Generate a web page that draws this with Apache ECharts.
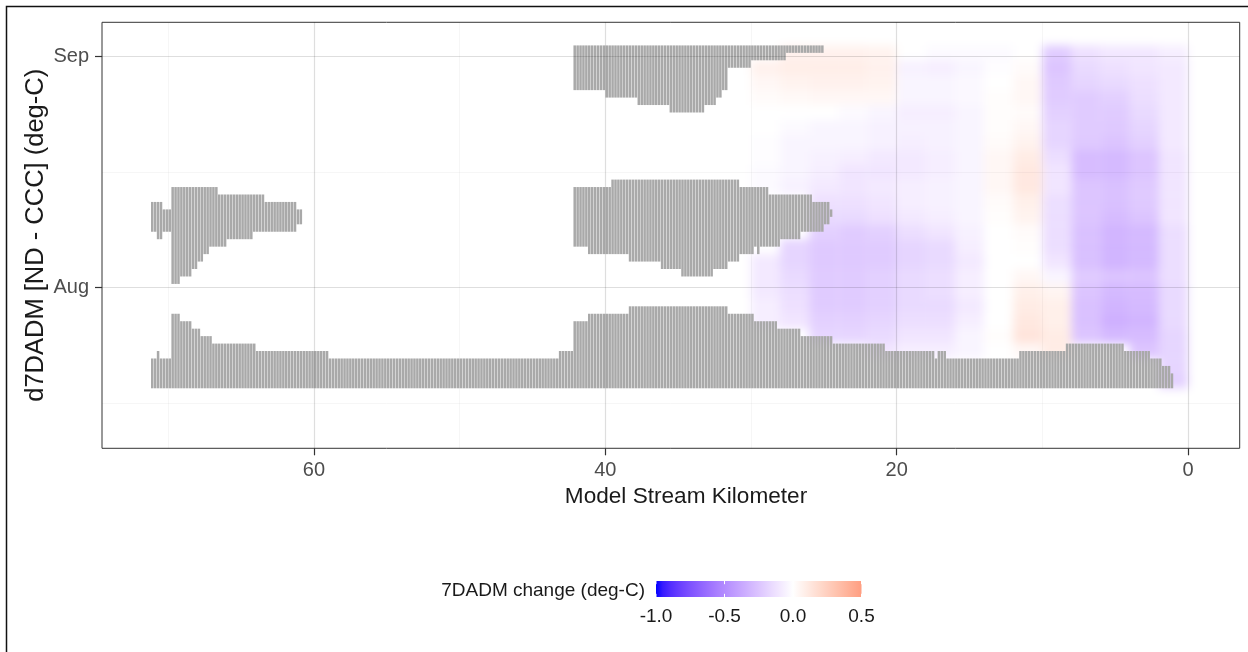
<!DOCTYPE html>
<html>
<head>
<meta charset="utf-8">
<script src="https://cdn.jsdelivr.net/npm/echarts@6/dist/echarts.min.js"></script>
<style>
  html, body { margin: 0; padding: 0; background: #fff; }
  #wrap { position: relative; width: 1248px; height: 652px; overflow: hidden; background: #fff; }
  #fieldLayer, #mainLayer { position: absolute; left: 0; top: 0; width: 1248px; height: 652px; }
  #fieldLayer { filter: blur(5px); }
</style>
</head>
<body>
<div id="wrap">
  <div id="fieldLayer"></div>
  <div id="mainLayer"></div>
</div>
<script>
// ---------------- data ----------------
const kmTicks = [60, 40, 20, 0];
const kmMinor = [70, 50, 30, 10];
const monthTicks = [0, 31];            // days after 1 Aug
const monthLabels = ['Aug', 'Sep'];
const dayMinor = [-15.5, 15.5];
const legendBreaks = [-1.0, -0.5, 0.0, 0.5];

// change field in 2-km x 2-day bands
const fieldKmFrom = [0, 2, 4, 6, 8, 10, 12, 14, 16, 18, 20, 22, 24, 26, 28];
const fieldDayFrom = [31, 29, 27, 25, 23, 21, 19, 17, 15, 13, 11, 9, 7, 5, 3, 1, -1, -3, -5, -7, -9, -11, -13];
const fieldChange = [
  [-0.07, -0.10, -0.10, -0.13, -0.22, 0.00, -0.02, -0.02, -0.02, 0.00, 0.06, 0.07, 0.07, 0.07, null],
  [-0.09, -0.11, -0.13, -0.16, -0.25, 0.02, -0.01, -0.04, -0.07, -0.06, 0.07, 0.09, 0.09, 0.09, 0.07],
  [-0.09, -0.13, -0.16, -0.18, -0.23, 0.04, 0.00, -0.03, -0.04, -0.04, 0.06, 0.07, 0.07, 0.06, 0.04],
  [-0.09, -0.14, -0.20, -0.22, -0.22, 0.04, 0.01, -0.03, -0.04, -0.04, 0.04, 0.04, 0.04, 0.03, 0.02],
  [-0.09, -0.16, -0.22, -0.22, -0.20, 0.02, 0.01, -0.04, -0.07, -0.07, -0.04, -0.02, 0.00, 0.00, 0.00],
  [-0.09, -0.18, -0.23, -0.22, -0.18, 0.04, 0.01, -0.04, -0.06, -0.06, -0.06, -0.04, -0.04, -0.02, 0.00],
  [-0.09, -0.20, -0.25, -0.23, -0.18, 0.06, 0.02, -0.04, -0.06, -0.07, -0.06, -0.04, -0.04, -0.04, -0.01],
  [-0.11, -0.25, -0.30, -0.29, -0.14, 0.10, 0.04, -0.04, -0.07, -0.09, -0.09, -0.07, -0.06, -0.04, -0.01],
  [-0.11, -0.25, -0.30, -0.29, -0.11, 0.12, 0.04, -0.04, -0.07, -0.09, -0.11, -0.11, -0.07, -0.04, -0.02],
  [-0.11, -0.23, -0.27, -0.25, -0.11, 0.12, 0.04, -0.04, -0.06, -0.07, -0.09, -0.11, -0.09, -0.06, -0.02],
  [-0.11, -0.23, -0.27, -0.25, -0.14, 0.08, 0.02, -0.04, -0.06, -0.07, -0.11, -0.13, -0.13, null, null],
  [-0.11, -0.25, -0.29, -0.25, -0.14, 0.06, 0.01, -0.04, -0.07, -0.09, -0.13, -0.16, -0.16, null, null],
  [-0.14, -0.30, -0.32, -0.27, -0.14, 0.02, 0.00, -0.06, -0.11, -0.14, -0.20, -0.22, -0.20, null, null],
  [-0.14, -0.30, -0.32, -0.27, -0.14, 0.01, 0.00, -0.07, -0.16, -0.18, -0.22, -0.23, -0.23, -0.18, null],
  [-0.14, -0.30, -0.32, -0.27, -0.11, 0.00, 0.00, -0.09, -0.16, -0.18, -0.22, -0.23, -0.23, -0.18, -0.09],
  [-0.14, -0.25, -0.25, -0.22, -0.04, 0.04, 0.00, -0.07, -0.14, -0.16, -0.20, -0.22, -0.22, -0.16, -0.09],
  [-0.16, -0.29, -0.30, -0.25, 0.05, 0.08, 0.00, -0.07, -0.14, -0.16, -0.20, -0.22, -0.22, -0.14, -0.09],
  [-0.16, -0.30, -0.32, -0.27, 0.08, 0.10, 0.00, -0.09, -0.16, -0.16, -0.20, -0.22, -0.22, -0.13, -0.07],
  [-0.16, -0.32, -0.34, -0.27, 0.08, 0.12, 0.00, -0.07, -0.14, -0.14, -0.18, -0.20, -0.20, -0.11, -0.07],
  [-0.18, -0.29, -0.30, -0.25, 0.10, 0.14, 0.01, -0.04, -0.11, -0.11, -0.16, -0.18, -0.18, null, null],
  [-0.18, -0.25, null, null, 0.10, 0.04, 0.00, -0.04, -0.07, -0.07, -0.11, null, null, null, null],
  [-0.18, null, null, null, null, null, null, null, null, null, null, null, null, null, null],
  [-0.20, null, null, null, null, null, null, null, null, null, null, null, null, null, null]
];

// stretches with no comparison: [km upper, km lower, first day, last day] (days after 1 Aug)
const noDataRuns = [
  // long July band
  [71.2, 70.8, -13, -10], [70.8, 70.6, -13, -9], [70.6, 69.8, -13, -10], [69.8, 69.2, -13, -4],
  [69.2, 68.4, -13, -5], [68.4, 67.8, -13, -6], [67.8, 67.0, -13, -7], [67.0, 64.0, -13, -8],
  [64.0, 59.0, -13, -9], [59.0, 43.2, -13, -10], [43.2, 42.2, -13, -9], [42.2, 41.2, -13, -5],
  [41.2, 38.4, -13, -4], [38.4, 31.6, -13, -3], [31.6, 29.8, -13, -4], [29.8, 28.2, -13, -5],
  [28.2, 26.6, -13, -6], [26.6, 24.4, -13, -7], [24.4, 20.8, -13, -8], [20.8, 17.4, -13, -9],
  [17.4, 17.2, -13, -10], [17.2, 16.6, -13, -9], [16.6, 11.6, -13, -10], [11.6, 8.4, -13, -9],
  [8.4, 4.4, -13, -8], [4.4, 2.6, -13, -9], [2.6, 1.8, -13, -10], [1.8, 1.2, -13, -11],
  [1.2, 1.0, -13, -12],
  // upstream August patch
  [71.2, 70.8, 8, 11], [70.8, 70.4, 7, 11], [70.4, 69.8, 8, 10], [69.8, 69.2, 1, 13],
  [69.2, 68.4, 2, 13], [68.4, 68.0, 3, 13], [68.0, 67.6, 4, 13], [67.6, 67.2, 5, 13],
  [67.2, 66.6, 6, 13], [66.6, 66.0, 6, 12], [66.0, 64.2, 7, 12], [64.2, 63.4, 8, 12],
  [63.4, 61.2, 8, 11], [61.2, 60.8, 9, 10],
  // mid-reach August patch
  [42.2, 41.2, 6, 13], [41.2, 39.6, 5, 13], [39.6, 38.4, 5, 14], [38.4, 36.2, 4, 14],
  [36.2, 34.8, 3, 14], [34.8, 32.6, 2, 14], [32.6, 31.6, 3, 14], [31.6, 30.8, 4, 14],
  [30.8, 29.8, 5, 13], [29.8, 29.6, 6, 13], [29.6, 29.4, 5, 13], [29.4, 28.8, 6, 13],
  [28.8, 28.0, 6, 12], [28.0, 26.6, 7, 12], [26.6, 25.8, 8, 12], [25.8, 25.0, 8, 11],
  [25.0, 24.6, 9, 11], [24.6, 24.4, 10, 10],
  // late-August / September patch
  [42.2, 40.0, 27, 32], [40.0, 37.8, 26, 32], [37.8, 35.6, 25, 32], [35.6, 33.2, 24, 32],
  [33.2, 32.4, 25, 32], [32.4, 32.0, 26, 32], [32.0, 31.6, 27, 32], [31.6, 30.0, 30, 32],
  [30.0, 27.6, 31, 32], [27.6, 25.0, 32, 32]
];

// ---------------- styling helpers ----------------
const FONT = '"Liberation Sans", Arial, Helvetica, sans-serif';
const segmentKm = 0.2;   // model segment length
const fieldBandKm = 2;
const fieldBandDays = 2;

// colours interpolated in CIE Lab between white and blue / red
function toLin(c) { c /= 255; return c <= 0.04045 ? c / 12.92 : Math.pow((c + 0.055) / 1.055, 2.4); }
function toSrgb(c) {
  c = c <= 0.0031308 ? 12.92 * c : 1.055 * Math.pow(c, 1 / 2.4) - 0.055;
  return Math.round(Math.max(0, Math.min(1, c)) * 255);
}
function rgbToLab(rgb) {
  const R = toLin(rgb[0]), G = toLin(rgb[1]), B = toLin(rgb[2]);
  const X = (0.4124 * R + 0.3576 * G + 0.1805 * B) / 0.95047;
  const Y = 0.2126 * R + 0.7152 * G + 0.0722 * B;
  const Z = (0.0193 * R + 0.1192 * G + 0.9505 * B) / 1.08883;
  const f = t => t > 0.008856 ? Math.cbrt(t) : 7.787 * t + 16 / 116;
  const fx = f(X), fy = f(Y), fz = f(Z);
  return [116 * fy - 16, 500 * (fx - fy), 200 * (fy - fz)];
}
function labToRgb(lab) {
  const fy = (lab[0] + 16) / 116, fx = fy + lab[1] / 500, fz = fy - lab[2] / 200;
  const inv = t => t * t * t > 0.008856 ? t * t * t : (t - 16 / 116) / 7.787;
  const X = inv(fx) * 0.95047, Y = inv(fy), Z = inv(fz) * 1.08883;
  return [
    toSrgb(3.2406 * X - 1.5372 * Y - 0.4986 * Z),
    toSrgb(-0.9689 * X + 1.8758 * Y + 0.0415 * Z),
    toSrgb(0.0557 * X - 0.2040 * Y + 1.0570 * Z)
  ];
}
const LAB_WHITE = rgbToLab([255, 255, 255]);
const LAB_BLUE = rgbToLab([0, 0, 255]);
const LAB_RED = rgbToLab([255, 0, 0]);
function changeColor(v) {
  const end = v < 0 ? LAB_BLUE : LAB_RED;
  const t = Math.min(1, Math.abs(v));
  const lab = LAB_WHITE.map((w, i) => w + (end[i] - w) * t);
  const c = labToRgb(lab);
  return 'rgb(' + c[0] + ',' + c[1] + ',' + c[2] + ')';
}
const scaleMin = -1.0, scaleMax = 0.5;
const colorStops = [];
for (let i = 0; i <= 30; i++) colorStops.push(changeColor(scaleMin + (scaleMax - scaleMin) * i / 30));

// ---------------- shared coordinate frame ----------------
const gridBox = { left: 102, top: 22.3, width: 1137.7, height: 426, containLabel: false };
const xRange = { min: -3.55, max: 74.55 };
const yRange = { min: -21.55, max: 35.6 };

function rectFrom(api, kmA, kmB, dayA, dayB) {
  const p = api.coord([kmA, dayA]);
  const q = api.coord([kmB, dayB]);
  return {
    x: Math.min(p[0], q[0]), y: Math.min(p[1], q[1]),
    width: Math.abs(q[0] - p[0]), height: Math.abs(q[1] - p[1])
  };
}

// ---------------- change field (soft layer) ----------------
const fieldData = [];
fieldDayFrom.forEach((d, r) => {
  fieldKmFrom.forEach((k, c) => {
    const v = fieldChange[r][c];
    if (v !== null) fieldData.push([k, d, v]);
  });
});

const fieldChart = echarts.init(document.getElementById('fieldLayer'), null, { renderer: 'canvas' });
fieldChart.setOption({
  backgroundColor: '#ffffff',
  animation: false,
  grid: gridBox,
  xAxis: Object.assign({ type: 'value', inverse: true, show: false }, xRange),
  yAxis: Object.assign({ type: 'value', show: false }, yRange),
  visualMap: {
    type: 'continuous', show: false, min: scaleMin, max: scaleMax,
    dimension: 2, seriesIndex: 0, inRange: { color: colorStops }
  },
  series: [{
    type: 'custom',
    silent: true,
    data: fieldData,
    renderItem(params, api) {
      const k = api.value(0), d = api.value(1);
      const shape = rectFrom(api, k, k + fieldBandKm, d - 0.5, d - 0.5 + fieldBandDays);
      return { type: 'rect', shape, style: { fill: api.visual('color') } };
    }
  }]
});

// ---------------- main layer ----------------
const noDataColumns = [];
for (let i = 0; i < 360; i++) {
  const c = segmentKm * i + segmentKm / 2;
  noDataRuns.forEach(run => {
    if (c < run[0] && c > run[1]) noDataColumns.push([c, run[2], run[3]]);
  });
}

const gridLineData = []
  .concat(kmMinor.map(v => ({ xAxis: v, lineStyle: { color: 'rgba(0,0,0,0.035)', width: 1 } })))
  .concat(dayMinor.map(v => ({ yAxis: v, lineStyle: { color: 'rgba(0,0,0,0.035)', width: 1 } })))
  .concat(kmTicks.map(v => ({ xAxis: v })))
  .concat(monthTicks.map(v => ({ yAxis: v })));

const barLeft = 656, barWidth = 205.5, barTop = 581, barHeight = 16;
const legendGraphics = [
  {
    type: 'text', x: 645, y: barTop + barHeight / 2 + 2,
    style: { text: '7DADM change (deg-C)', font: '19px ' + FONT, fill: '#1a1a1a', align: 'right', verticalAlign: 'middle' }
  },
  {
    type: 'rect', shape: { x: barLeft, y: barTop, width: barWidth, height: barHeight },
    style: {
      fill: new echarts.graphic.LinearGradient(0, 0, 1, 0,
        colorStops.map((c, i) => ({ offset: i / (colorStops.length - 1), color: c })))
    }
  }
];
legendBreaks.forEach(b => {
  const x = barLeft + (b - scaleMin) / (scaleMax - scaleMin) * barWidth;
  legendGraphics.push(
    { type: 'line', shape: { x1: x, y1: barTop, x2: x, y2: barTop + barHeight / 5 }, style: { stroke: '#fff', lineWidth: 1 } },
    { type: 'line', shape: { x1: x, y1: barTop + barHeight * 4 / 5, x2: x, y2: barTop + barHeight }, style: { stroke: '#fff', lineWidth: 1 } },
    { type: 'text', x: x, y: 617, style: { text: b.toFixed(1), font: '19px ' + FONT, fill: '#1a1a1a', align: 'center', verticalAlign: 'middle' } }
  );
});

const mainChart = echarts.init(document.getElementById('mainLayer'), null, { renderer: 'canvas' });
mainChart.setOption({
  backgroundColor: 'rgba(0,0,0,0)',
  animation: false,
  grid: Object.assign({ show: true, borderColor: '#333333', borderWidth: 1, backgroundColor: 'rgba(0,0,0,0)' }, gridBox),
  xAxis: Object.assign({
    type: 'value', inverse: true, position: 'bottom',
    axisLine: { show: false, onZero: false },
    axisTick: { show: true, customValues: kmTicks, length: 7, lineStyle: { color: '#333333', width: 1.2 } },
    axisLabel: { customValues: kmTicks, color: '#4d4d4d', fontSize: 20, fontFamily: FONT, margin: 12 },
    splitLine: { show: false }
  }, xRange),
  yAxis: Object.assign({
    type: 'value', position: 'left',
    axisLine: { show: false, onZero: false },
    axisTick: { show: true, customValues: monthTicks, length: 7, lineStyle: { color: '#333333', width: 1.2 } },
    axisLabel: {
      customValues: monthTicks, color: '#4d4d4d', fontSize: 20, fontFamily: FONT, margin: 13,
      formatter: v => monthLabels[monthTicks.indexOf(v)]
    },
    splitLine: { show: false }
  }, yRange),
  graphic: [
    {
      type: 'rect', shape: { x: 6.5, y: 6.5, width: 1300, height: 700 },
      style: { fill: 'none', stroke: '#111', lineWidth: 1.5 }, silent: true
    },
    {
      type: 'text', x: 36, y: 235.3, rotation: Math.PI / 2,
      style: { text: 'd7DADM [ND - CCC] (deg-C)', font: '25.5px ' + FONT, fill: '#1a1a1a', align: 'center', verticalAlign: 'middle' }
    },
    {
      type: 'text', x: 686, y: 497,
      style: { text: 'Model Stream Kilometer', font: '22.6px ' + FONT, fill: '#1a1a1a', align: 'center', verticalAlign: 'middle' }
    }
  ].concat(legendGraphics),
  series: [{
    type: 'custom',
    silent: true,
    data: noDataColumns,
    renderItem(params, api) {
      const c = api.value(0), lo = api.value(1), hi = api.value(2);
      const s = rectFrom(api, c + segmentKm / 2, c - segmentKm / 2, lo - 0.5, hi + 0.5);
      return {
        type: 'rect',
        shape: { x: s.x + 0.2, y: s.y, width: Math.max(s.width - 0.4, 0.5), height: s.height },
        style: { fill: '#a9a9a9' }
      };
    },
    markLine: {
      silent: true,
      symbol: ['none', 'none'],
      label: { show: false },
      lineStyle: { color: 'rgba(0,0,0,0.13)', width: 1.2, type: 'solid' },
      data: gridLineData
    }
  }]
});
</script>
</body>
</html>
